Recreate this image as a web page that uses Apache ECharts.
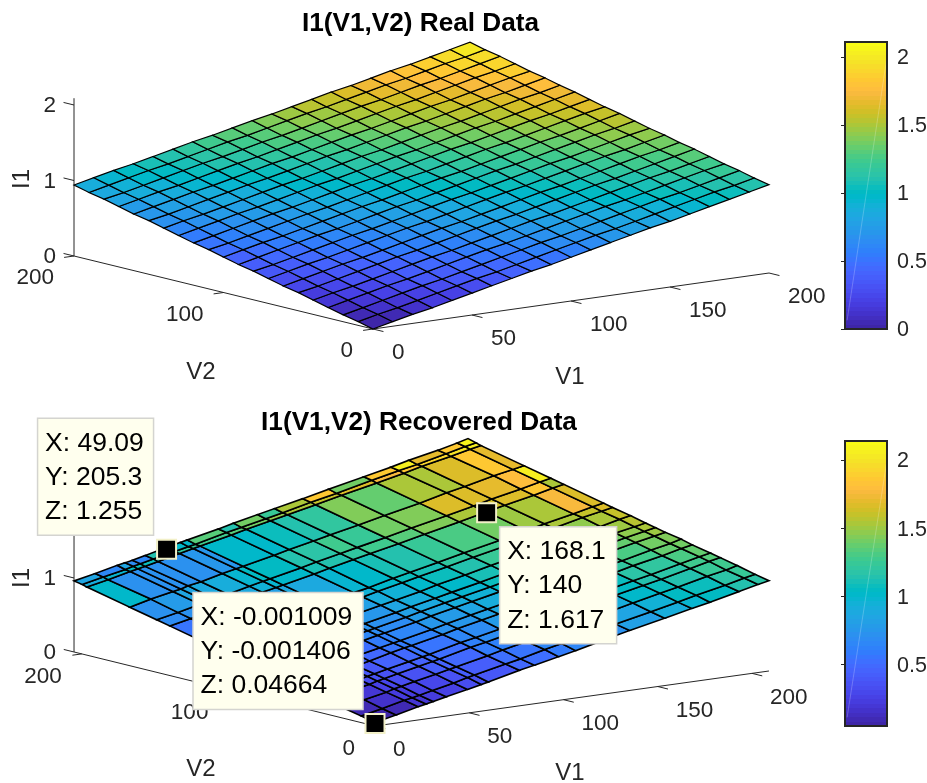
<!DOCTYPE html>
<html><head><meta charset="utf-8">
<style>html,body{margin:0;padding:0;background:#fff}#c{width:927px;height:783px}</style>
<script src="https://cdn.jsdelivr.net/npm/echarts@6/dist/echarts.min.js"></script>
</head><body><div id="c"></div>
<script>
// ---------- data ----------
const realV1 = [0,10,20,30,40,50,60,70,80,90,100,110,120,130,140,150,160,170,180,190,200];
const realV2 = [0,10,20,30,40,50,60,70,80,90,100,110,120,130,140,150,160,170,180,190,200];
const realI1 = [
[0,.06,.12,.17,.23,.29,.35,.41,.47,.52,.58,.64,.70,.76,.82,.87,.93,.99,1.05,1.11,1.17],
[.05,.11,.16,.22,.28,.34,.40,.45,.51,.57,.63,.69,.75,.80,.86,.92,.98,1.04,1.10,1.15,1.21],
[.09,.15,.21,.27,.33,.38,.44,.50,.56,.62,.68,.73,.79,.85,.91,.97,1.03,1.08,1.14,1.20,1.26],
[.14,.20,.26,.32,.37,.43,.49,.55,.61,.66,.72,.78,.84,.90,.96,1.01,1.07,1.13,1.19,1.25,1.30],
[.19,.25,.30,.36,.42,.48,.54,.59,.65,.71,.77,.83,.88,.94,1.00,1.06,1.12,1.18,1.23,1.29,1.35],
[.24,.29,.35,.41,.47,.53,.58,.64,.70,.76,.82,.87,.93,.99,1.05,1.11,1.16,1.22,1.28,1.34,1.40],
[.28,.34,.40,.46,.51,.57,.63,.69,.75,.80,.86,.92,.98,1.04,1.09,1.15,1.21,1.27,1.33,1.38,1.44],
[.33,.39,.45,.50,.56,.62,.68,.74,.79,.85,.91,.97,1.03,1.08,1.14,1.20,1.26,1.32,1.37,1.43,1.49],
[.38,.43,.49,.55,.61,.67,.72,.78,.84,.90,.96,1.01,1.07,1.13,1.19,1.25,1.30,1.36,1.42,1.48,1.53],
[.42,.48,.54,.60,.66,.71,.77,.83,.89,.94,1.00,1.06,1.12,1.18,1.23,1.29,1.35,1.41,1.47,1.52,1.58],
[.47,.53,.59,.64,.70,.76,.82,.88,.93,.99,1.05,1.11,1.16,1.22,1.28,1.34,1.40,1.45,1.51,1.57,1.63],
[.52,.57,.63,.69,.75,.81,.86,.92,.98,1.04,1.10,1.15,1.21,1.27,1.33,1.38,1.44,1.50,1.56,1.62,1.67],
[.56,.62,.68,.74,.80,.85,.91,.97,1.03,1.08,1.14,1.20,1.26,1.32,1.37,1.43,1.49,1.55,1.60,1.66,1.72],
[.61,.67,.73,.79,.84,.90,.96,1.02,1.07,1.13,1.19,1.25,1.30,1.36,1.42,1.48,1.53,1.59,1.65,1.71,1.77],
[.66,.72,.77,.83,.89,.95,1.01,1.06,1.12,1.18,1.24,1.29,1.35,1.41,1.47,1.52,1.58,1.64,1.70,1.75,1.81],
[.71,.76,.82,.88,.94,1.00,1.05,1.11,1.17,1.23,1.28,1.34,1.40,1.46,1.51,1.57,1.63,1.69,1.74,1.80,1.86],
[.75,.81,.87,.93,.98,1.04,1.10,1.16,1.21,1.27,1.33,1.39,1.44,1.50,1.56,1.62,1.67,1.73,1.79,1.85,1.90],
[.80,.86,.92,.97,1.03,1.09,1.15,1.20,1.26,1.32,1.38,1.43,1.49,1.55,1.61,1.66,1.72,1.78,1.84,1.89,1.95],
[.85,.90,.96,1.02,1.08,1.14,1.19,1.25,1.31,1.36,1.42,1.48,1.54,1.60,1.65,1.71,1.77,1.82,1.88,1.94,2.00],
[.89,.95,1.01,1.07,1.12,1.18,1.24,1.30,1.35,1.41,1.47,1.53,1.58,1.64,1.70,1.76,1.81,1.87,1.93,1.98,2.04],
[.94,1.00,1.06,1.11,1.17,1.23,1.29,1.34,1.40,1.46,1.51,1.57,1.63,1.69,1.74,1.80,1.86,1.91,1.97,2.03,2.09]];

const recV1 = [-0.001009,11.2,22.9,27.1,30.9,37.8,49.09,56.4,60.1,76.6,84.6,97.4,106.4,121.3,135.1,153.7,168.1,177.7,193.1,203.2,209];
const recV2 = [-0.001406,9.5,21.8,33.3,40.1,52.4,60,70.7,77.5,84.3,94.5,106.8,112.9,140,148.9,167.3,196.5,199.8,205.3];
const recI1 = [
[.04664,.11,.18,.20,.22,.26,.32,.36,.38,.48,.52,.59,.64,.73,.81,.91,.99,1.04,1.13,1.19,1.22],
[.09,.15,.22,.24,.26,.30,.36,.41,.43,.52,.56,.64,.69,.77,.85,.95,1.03,1.09,1.17,1.23,1.26],
[.14,.21,.27,.30,.32,.36,.42,.46,.48,.57,.62,.69,.74,.82,.90,1.01,1.09,1.14,1.23,1.28,1.32],
[.20,.26,.32,.35,.37,.41,.47,.51,.53,.63,.67,.74,.79,.88,.95,1.06,1.14,1.19,1.28,1.34,1.37],
[.23,.29,.35,.38,.40,.44,.50,.54,.56,.66,.70,.77,.82,.91,.98,1.09,1.17,1.22,1.31,1.37,1.40],
[.28,.34,.41,.43,.45,.49,.56,.60,.62,.71,.76,.83,.88,.96,1.04,1.14,1.22,1.28,1.36,1.42,1.45],
[.31,.38,.44,.47,.49,.53,.59,.63,.65,.74,.79,.86,.91,.99,1.07,1.18,1.26,1.31,1.40,1.45,1.49],
[.36,.43,.49,.51,.54,.57,.64,.68,.70,.79,.84,.91,.96,1.04,1.12,1.22,1.31,1.36,1.45,1.50,1.53],
[.39,.46,.52,.54,.57,.60,.67,.71,.73,.82,.87,.94,.99,1.07,1.15,1.25,1.34,1.39,1.48,1.53,1.56],
[.42,.49,.55,.57,.60,.63,.70,.74,.76,.85,.90,.97,1.02,1.10,1.18,1.28,1.37,1.42,1.51,1.56,1.59],
[.47,.53,.60,.62,.64,.68,.74,.78,.81,.90,.94,1.01,1.07,1.15,1.23,1.33,1.41,1.47,1.55,1.61,1.64],
[.52,.59,.65,.67,.70,.73,.80,.84,.86,.95,1.00,1.07,1.12,1.20,1.28,1.38,1.47,1.52,1.61,1.66,1.69],
[.55,.61,.68,.70,.72,.76,.82,.87,.89,.98,1.02,1.10,1.15,1.23,1.31,1.41,1.49,1.55,1.63,1.69,1.72],
[.67,.73,.80,.82,.84,.88,.95,.99,1.01,1.10,1.15,1.22,1.27,1.35,1.43,1.53,1.617,1.67,1.75,1.81,1.84],
[.71,.77,.84,.86,.88,.92,.99,1.03,1.05,1.14,1.19,1.26,1.31,1.39,1.47,1.57,1.65,1.71,1.79,1.85,1.88],
[.79,.86,.92,.94,.97,1.00,1.07,1.11,1.13,1.22,1.27,1.34,1.39,1.47,1.55,1.65,1.74,1.79,1.88,1.93,1.96],
[.92,.98,1.05,1.07,1.09,1.13,1.20,1.24,1.26,1.35,1.40,1.47,1.52,1.60,1.68,1.78,1.86,1.92,2.00,2.06,2.09],
[.94,1.00,1.06,1.09,1.11,1.15,1.21,1.25,1.27,1.37,1.41,1.48,1.53,1.62,1.69,1.80,1.88,1.93,2.02,2.08,2.11],
[.96,1.02,1.09,1.11,1.13,1.17,1.24,1.28,1.30,1.39,1.44,1.51,1.56,1.64,1.72,1.82,1.90,1.96,2.04,2.10,2.14]];
// face colour readings that differ from the face's corner height: [row, column, I1 level]
const recFaceLevels = [
[17,0,.85],[17,1,.65],[17,2,.85],[17,3,.7],[17,4,.65],[17,6,1.0],[17,7,1.0],[17,8,1.35],[17,9,1.15],[17,10,1.4],
[17,11,1.25],[17,12,1.55],[17,13,1.85],[17,14,1.4],[17,15,1.85],[17,16,2.05],[17,17,1.7],[17,18,1.85],[17,19,2.1],
[15,0,1.0],[15,1,.72],[15,2,.72],[15,3,.72],[15,4,.72],[15,5,.72],[15,6,.75],[15,7,.75],[15,8,1.0],[15,9,1.02],[15,10,1.08],
[15,11,1.15],[15,12,1.22],[15,13,1.45],[15,14,1.38],[15,15,1.55],[15,16,1.55],[15,17,1.68],
[14,12,1.25],[14,13,1.4],[14,14,1.45],[14,15,1.65],
[15,19,1.7],[14,19,2.05],[13,19,1.55],[12,19,1.65],[15,18,1.85],[14,18,1.8],[13,18,1.85],[12,18,1.75]];

const v1Ticks = [0,50,100,150,200];
const v2Ticks = [0,100,200];
const i1Ticks = [0,1,2];
const barTicksTop = [0,0.5,1,1.5,2];
const barTicksBottom = [0.5,1,1.5,2];
const barRangeTop = [0,2.11];
const barRangeBottom = [0.04664,2.14];
const tipX = [49.09,-0.001009,168.1];
const tipY = [205.3,-0.001406,140];
const tipZ = [1.255,0.04664,1.617];

const parula = [[.2422,.1504,.6603],[.2504,.165,.7076],[.2578,.1818,.7511],[.2647,.1978,.7952],[.2706,.2147,.8364],[.2751,.2342,.871],[.2783,.2559,.8991],[.2803,.2782,.9221],[.2813,.3006,.9414],[.281,.3228,.9579],[.2795,.3447,.9717],[.276,.3667,.9829],[.2699,.3892,.9906],[.2602,.4123,.9952],[.244,.4358,.9988],[.2206,.4603,.9973],[.1963,.4847,.9892],[.1834,.5074,.9798],[.1786,.5289,.9682],[.1764,.5499,.952],[.1687,.5703,.9359],[.154,.5902,.9218],[.146,.6091,.9079],[.138,.6276,.8973],[.1248,.6459,.8883],[.1113,.6635,.8763],[.0952,.6798,.8598],[.0689,.6948,.8394],[.0297,.7082,.8163],[.0036,.7203,.7917],[.0067,.7312,.766],[.0433,.7411,.7394],[.0964,.75,.712],[.1408,.7584,.6842],[.1717,.767,.6554],[.1938,.7758,.6251],[.2161,.7843,.5923],[.247,.7918,.5567],[.2906,.7973,.5188],[.3406,.8008,.4789],[.3909,.8029,.4354],[.4456,.8024,.3909],[.5044,.7993,.348],[.5616,.7942,.3045],[.6174,.7876,.2612],[.672,.7793,.2227],[.7242,.7698,.191],[.7738,.7598,.1646],[.8203,.7498,.1535],[.8634,.7406,.1596],[.9035,.733,.1774],[.9393,.7288,.21],[.9728,.7298,.2394],[.9956,.7434,.2371],[.997,.7659,.2199],[.9952,.7861,.1963],[.9892,.8137,.1886],[.9786,.8386,.1766],[.9676,.8639,.1643],[.961,.889,.1537],[.9597,.9135,.1423],[.9628,.9373,.1265],[.9691,.9606,.1064],[.9769,.9839,.0805]];
// ---------- drawing ----------
const FONT = '"Liberation Sans", Arial, sans-serif';
const INK = '#262626';
function toCss(c){return 'rgb('+c.map(v=>Math.round(v*255)).join(',')+')';}
function levelColor(v,range){
  const n = parula.length;
  let k = Math.floor((v-range[0])/(range[1]-range[0])*n);
  k = Math.max(0,Math.min(n-1,k));
  return toCss(parula[k]);
}
const top3d = {origin:[373,329], v1:[1.98,-.28], v2:[-1.495,-.365], z:75.5, v1Lim:[0,200], v2Lim:[0,200], zLim:[0,2.09],
  tickV1:[19,24], tickV2:[-20,22], lineWidth:1.2, range:barRangeTop, faceLevels:[],
  xs:realV1, ys:realV2, zs:realI1, v2Label:[201,372], v1Label:[570,377], i1Label:[22,179]};
const bot3d = {origin:[375,726], v1:[1.885,-.2632], v2:[-1.466,-.3605], z:74, v1Lim:[-0.001009,209], v2Lim:[-0.001406,205.3], zLim:[0,2.14],
  tickV1:[18,24], tickV2:[-20,23], lineWidth:1.6, range:barRangeBottom, faceLevels:recFaceLevels,
  xs:recV1, ys:recV2, zs:recI1, v2Label:[201,769], v1Label:[570,773], i1Label:[22,578]};
function pr(p,a,b,c){return [p.origin[0]+p.v1[0]*a+p.v2[0]*b, p.origin[1]+p.v1[1]*a+p.v2[1]*b-p.z*c];}
function customSeries(n,z,fn){
  const data=[];for(let i=0;i<n;i++)data.push([i]);
  return {type:'custom',coordinateSystem:'cartesian2d',xAxisIndex:0,yAxisIndex:0,clip:false,silent:true,z:z,data:data,animation:false,
    renderItem:(params,api)=>fn(params.dataIndex,(a,b,c)=>api.coord(pr(fn.p,a,b,c)),api)};
}
function label(text,pos,align,size,extra){
  return Object.assign({type:'text',style:{text:String(text),x:pos[0],y:pos[1],align:align,verticalAlign:'middle',font:(size||22.5)+'px '+FONT,fill:INK}},extra||{});
}
function plot(p){
  const out=[];
  const segs=[];
  segs.push([[p.v1Lim[0],0,0],[p.v1Lim[1],0,0]]);
  segs.push([[0,p.v2Lim[0],0],[0,p.v2Lim[1],0]]);
  segs.push([[0,p.v2Lim[1],0],[0,p.v2Lim[1],p.zLim[1]]]);
  v1Ticks.forEach(t=>segs.push([[t,0,0],[t,-7,0]]));
  v2Ticks.forEach(t=>segs.push([[0,t,0],[-5,t,0]]));
  i1Ticks.forEach(t=>segs.push([[0,p.v2Lim[1],t],[0,p.v2Lim[1]+7,t]]));
  const fa=(i,P)=>{const s=segs[i],u=P(...s[0]),w=P(...s[1]);
    return {type:'line',shape:{x1:u[0],y1:u[1],x2:w[0],y2:w[1]},style:{stroke:INK,lineWidth:1}};};
  fa.p=p; out.push(customSeries(segs.length,2,fa));
  const faces=[];
  for(let r=0;r<p.ys.length-1;r++)for(let c=0;c<p.xs.length-1;c++)faces.push([r,c]);
  const over={}; p.faceLevels.forEach(f=>{over[f[0]+'_'+f[1]]=f[2];});
  const ff=(i,P)=>{const r=faces[i][0],c=faces[i][1];
    const pts=[P(p.xs[c],p.ys[r],p.zs[r][c]),P(p.xs[c+1],p.ys[r],p.zs[r][c+1]),P(p.xs[c+1],p.ys[r+1],p.zs[r+1][c+1]),P(p.xs[c],p.ys[r+1],p.zs[r+1][c])];
    const key=r+'_'+c; const lev=(key in over)?over[key]:p.zs[r][c];
    return {type:'polygon',shape:{points:pts},style:{fill:levelColor(lev,p.range),stroke:'#000',lineWidth:p.lineWidth,lineJoin:'miter'}};};
  ff.p=p; out.push(customSeries(faces.length,3,ff));
  const lab=[];
  v1Ticks.forEach(t=>lab.push({t:t,at:[t,0,0],off:p.tickV1,al:'left'}));
  v2Ticks.forEach(t=>lab.push({t:t,at:[0,t,0],off:p.tickV2,al:'right'}));
  i1Ticks.forEach(t=>lab.push({t:t,at:[0,p.v2Lim[1],t],off:[-18,1],al:'right'}));
  const fl=(i,P)=>{const L=lab[i],q=P(...L.at);return label(L.t,[q[0]+L.off[0],q[1]+L.off[1]],L.al);};
  fl.p=p; out.push(customSeries(lab.length,4,fl));
  return out;
}
function axisNames(p){
  const names=[['V2',p.v2Label,0],['V1',p.v1Label,0],['I1',p.i1Label,Math.PI/2]];
  const f=(i,P,api)=>{const n=names[i],q=api.coord(n[1]);
    const el=label(n[0],[0,0],'center',24);
    el.x=q[0];el.y=q[1];el.rotation=n[2];return el;};
  f.p=p; return customSeries(names.length,4,f);
}
function tips(){
  const offs=[[-129,-131],[-182,-131],[13,14]],sizes=[[116,117],[170,117],[117,117]],nudge=[[0,3],[0,1],[0,1]];
  const f=(i,P)=>{const m=P(tipX[i],tipY[i],tipZ[i]),q=[m[0]+nudge[i][0],m[1]+nudge[i][1]];
    const bx=q[0]+offs[i][0],by=q[1]+offs[i][1],w=sizes[i][0],h=sizes[i][1];
    const lines=['X: '+tipX[i],'Y: '+tipY[i],'Z: '+tipZ[i]];
    const kids=[
      {type:'rect',shape:{x:q[0]-9.5,y:q[1]-9.5,width:19,height:19},style:{fill:'#000',stroke:'#f2f0c8',lineWidth:2}},
      {type:'rect',shape:{x:bx,y:by,width:w,height:h},style:{fill:'#ffffee',stroke:'#d4d4d0',lineWidth:1.5}}];
    lines.forEach((s,k)=>{const t=label(s,[bx+7.5,by+25+k*34.3],'left',26.5);t.style.fill='#000';kids.push(t);});
    return {type:'group',children:kids};};
  f.p=bot3d; return customSeries(3,9,f);
}
function colorbar(idx,range){
  const bands=parula.map((c,i)=>[i]);
  return {type:'custom',coordinateSystem:'cartesian2d',xAxisIndex:idx,yAxisIndex:idx,silent:true,z:2,data:bands,clip:true,animation:false,
    renderItem:(params,api)=>{const i=params.dataIndex,n=parula.length,s=range[1]-range[0];
      const a=api.coord([0,range[0]+s*i/n]),b=api.coord([1,range[0]+s*(i+1)/n]);
      const y1=Math.round(b[1]),y2=Math.round(a[1]);
      return {type:'rect',shape:{x:a[0],y:y1,width:b[0]-a[0],height:y2-y1},style:{fill:toCss(parula[i])}};}};
}
function barStreak(idx,range,ticks){
  return {type:'line',xAxisIndex:idx,yAxisIndex:idx,silent:true,z:3,symbol:'none',animation:false,
    lineStyle:{color:'rgba(255,255,255,.22)',width:1},
    data:[[.05,range[0]+.03*(range[1]-range[0])],[1,ticks[ticks.length-1]]]};
}
function hiddenAxisX(g){return {gridIndex:g,type:'value',min:0,max:1,show:false};}
function barAxis(g,range,ticks){
  return {gridIndex:g,type:'value',position:'right',min:range[0],max:range[1],splitLine:{show:false},
    axisLine:{show:false},
    axisTick:{show:true,inside:true,length:4,lineStyle:{color:INK,width:1},customValues:ticks},
    axisLabel:{show:true,margin:10,fontSize:21.5,fontFamily:'Liberation Sans',color:INK,verticalAlign:'top',lineHeight:3,customValues:ticks}};
}
const chart=echarts.init(document.getElementById('c'),null,{renderer:'canvas'});
chart.setOption({
  animation:false,backgroundColor:'#fff',
  title:[
    {text:'I1(V1,V2) Real Data',left:415.5,top:6,textAlign:'center',textStyle:{fontFamily:'Liberation Sans',fontSize:26.2,fontWeight:'bold',color:'#000'}},
    {text:'I1(V1,V2) Recovered Data',left:414,top:405,textAlign:'center',textStyle:{fontFamily:'Liberation Sans',fontSize:26.2,fontWeight:'bold',color:'#000'}}],
  grid:[
    {left:0,top:0,width:927,height:783,show:false,outerBoundsMode:'none'},
    {left:845,top:42,width:42,height:287,show:true,borderColor:INK,borderWidth:2,z:5,outerBoundsMode:'none'},
    {left:845,top:441,width:42,height:285,show:true,borderColor:INK,borderWidth:2,z:5,outerBoundsMode:'none'}],
  xAxis:[{gridIndex:0,type:'value',min:0,max:927,show:false},hiddenAxisX(1),hiddenAxisX(2)],
  yAxis:[{gridIndex:0,type:'value',min:0,max:783,inverse:true,show:false},barAxis(1,barRangeTop,barTicksTop),barAxis(2,barRangeBottom,barTicksBottom)],
  series:[].concat(plot(top3d),plot(bot3d),[axisNames(top3d),axisNames(bot3d),
    colorbar(1,barRangeTop),colorbar(2,barRangeBottom),
    barStreak(1,barRangeTop,barTicksTop),barStreak(2,barRangeBottom,barTicksBottom),tips()])
});
</script></body></html>
